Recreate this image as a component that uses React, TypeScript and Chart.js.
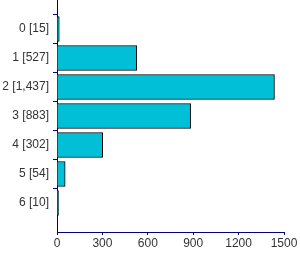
import React, { useEffect, useRef } from "react";
import { Chart, registerables } from "chart.js";

Chart.register(...registerables);

const categories = ["0", "1", "2", "3", "4", "5", "6"];
const counts = [15, 527, 1437, 883, 302, 54, 10];
const xTicks = [0, 300, 600, 900, 1200, 1500];

const NAVY = "#000080";
const FONT = { family: "Arial, 'Liberation Sans', sans-serif", size: 12 };

export default function App() {
  const ref = useRef<HTMLCanvasElement | null>(null);

  useEffect(() => {
    document.body.style.margin = "0";
    const labels = [
      "",
      ...categories.map((c, i) => `${c} [${counts[i].toLocaleString("en-US")}]`),
      "",
    ];
    const data = [null, ...counts, null];
    const chart = new Chart(ref.current as HTMLCanvasElement, {
      type: "bar",
      data: {
        labels,
        datasets: [
          {
            data: data as any,
            backgroundColor: "#00BFD6",
            borderColor: "#000000",
            borderWidth: 1,
            barThickness: 25,
          },
        ],
      },
      options: {
        indexAxis: "y",
        responsive: false,
        animation: false,
        layout: { padding: { top: 0, right: 16, bottom: 0, left: 0 } },
        plugins: { legend: { display: false }, tooltip: { enabled: false } },
        scales: {
          y: {
            type: "category",
            offset: false,
            afterFit: (axis: any) => {
              axis.width = 57;
              axis.paddingTop = 0;
              axis.paddingBottom = 0;
            },
            grid: {
              display: true,
              drawOnChartArea: false,
              drawTicks: true,
              tickLength: 4,
              tickColor: (ctx: any) =>
                ctx.index === 0 || ctx.index === labels.length - 1 ? "rgba(0,0,0,0)" : NAVY,
            },
            border: { display: true, color: NAVY, width: 1 },
            ticks: {
              autoSkip: false,
              padding: 4,
              color: "#333",
              font: FONT,
            },
          },
          x: {
            type: "linear",
            min: 0,
            max: 1500,
            afterBuildTicks: (axis: any) => {
              axis.ticks = xTicks.map((v) => ({ value: v }));
            },
            afterFit: (axis: any) => {
              axis.height = 22;
            },
            grid: {
              display: true,
              drawOnChartArea: false,
              drawTicks: true,
              tickLength: 3,
              tickColor: NAVY,
            },
            border: { display: true, color: NAVY, width: 1 },
            ticks: {
              padding: 1,
              maxRotation: 0,
              color: "#333",
              font: FONT,
              callback: (v: any) => String(v),
            },
          },
        },
      },
    });
    return () => chart.destroy();
  }, []);

  return <canvas ref={ref} width={300} height={254} style={{ display: "block" }} />;
}
